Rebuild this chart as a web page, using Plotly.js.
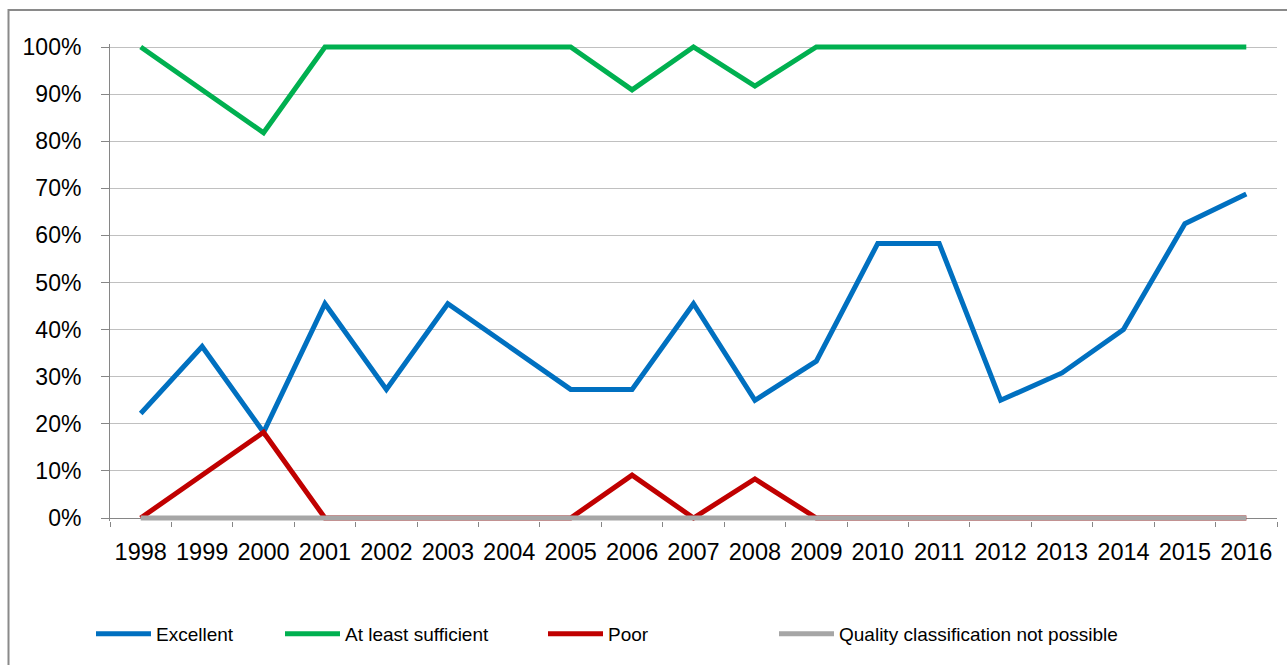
<!DOCTYPE html>
<html>
<head>
<meta charset="utf-8">
<script src="https://cdn.plot.ly/plotly-3.0.1.min.js"></script>
<style>
  html, body { margin: 0; padding: 0; background: #fff; }
  #chart { width: 1287px; height: 665px; }
</style>
</head>
<body>
<div id="chart"></div>
<script>
const years = ['1998','1999','2000','2001','2002','2003','2004','2005','2006','2007',
               '2008','2009','2010','2011','2012','2013','2014','2015','2016'];
const excellent = [0.222,0.364,0.182,0.455,0.273,0.455,0.364,0.273,0.273,0.455,
                   0.25,0.333,0.583,0.583,0.25,0.308,0.40,0.625,0.688];
const atLeastSufficient = [1.0,0.909,0.818,1.0,1.0,1.0,1.0,1.0,0.909,1.0,
                           0.917,1.0,1.0,1.0,1.0,1.0,1.0,1.0,1.0];
const poor = [0,0.091,0.182,0,0,0,0,0,0.091,0,
              0.083,0,0,0,0,0,0,0,0];
const notPossible = [0,0,0,0,0,0,0,0,0,0,0,0,0,0,0,0,0,0,0];
const seriesNames = ['Excellent','At least sufficient','Poor','Quality classification not possible'];
const yTickVals = [0,0.1,0.2,0.3,0.4,0.5,0.6,0.7,0.8,0.9,1.0];
const yTickText = ['0%','10%','20%','30%','40%','50%','60%','70%','80%','90%','100%'];

const colors = ['#0070C0','#00B050','#C00000','#A6A6A6'];
const seriesData = [excellent, atLeastSufficient, poor, notPossible];
const legendIds = ['legend','legend2','legend3','legend4'];

const traces = seriesData.map((vals, i) => ({
  type: 'scatter',
  mode: 'lines',
  x: years,
  y: vals,
  name: seriesNames[i],
  legend: legendIds[i],
  line: { color: colors[i], width: 5 },
  hoverinfo: 'x+y+name'
}));

// pixel geometry helpers (plot area: x 110..1277, y 44..521)
const L = 110, R = 10, T = 44, B = 144;
const PW = 1287 - L - R, PH = 665 - T - B;
const px = p => (p - L) / PW;
const py = p => (665 - B - p) / PH;
const pad = 3 / 471;

const legendFont = { family: 'Liberation Sans, Arial, sans-serif', size: 19, color: '#000' };
const legendStarts = [91, 280, 543, 774];
const legendCommon = (x) => ({
  x: px(x), y: py(634), xanchor: 'left', yanchor: 'middle',
  orientation: 'h', font: legendFont, bgcolor: 'rgba(0,0,0,0)',
  borderwidth: 0, itemwidth: 55, tracegroupgap: 0
});

const layout = {
  width: 1287, height: 665,
  margin: { l: L, r: R, t: T, b: B, pad: 0 },
  paper_bgcolor: '#fff', plot_bgcolor: '#fff',
  font: { family: 'Liberation Sans, Arial, sans-serif', size: 23, color: '#000' },
  showlegend: true,
  legend: legendCommon(legendStarts[0]),
  legend2: legendCommon(legendStarts[1]),
  legend3: legendCommon(legendStarts[2]),
  legend4: legendCommon(legendStarts[3]),
  xaxis: {
    type: 'category',
    range: [-0.5, 18.5],
    tickson: 'boundaries',
    ticks: 'outside', ticklen: 5, tickcolor: '#868686', tickwidth: 1,
    showline: false, showgrid: false, zeroline: false,
    ticklabelstandoff: 14,
    tickfont: { size: 23.5, color: '#000' },
    fixedrange: true
  },
  yaxis: {
    range: [-pad, 1 + pad],
    tickvals: yTickVals, ticktext: yTickText,
    ticks: 'outside', ticklen: 8, tickcolor: '#868686', tickwidth: 1,
    showline: true, linecolor: '#868686', linewidth: 1,
    showgrid: true, gridcolor: '#C0C0C0', gridwidth: 1,
    zeroline: true, zerolinecolor: '#868686', zerolinewidth: 1,
    ticklabelstandoff: 15,
    tickfont: { size: 23, color: '#000' },
    fixedrange: true
  },
  shapes: [{
    type: 'rect', xref: 'paper', yref: 'paper',
    x0: px(8.5), x1: px(1300), y0: py(680), y1: py(10),
    line: { color: '#8A8A8A', width: 2 }, fillcolor: 'rgba(0,0,0,0)', layer: 'below'
  }]
};

Plotly.newPlot('chart', traces, layout, { displayModeBar: false, staticPlot: true });
</script>
</body>
</html>
